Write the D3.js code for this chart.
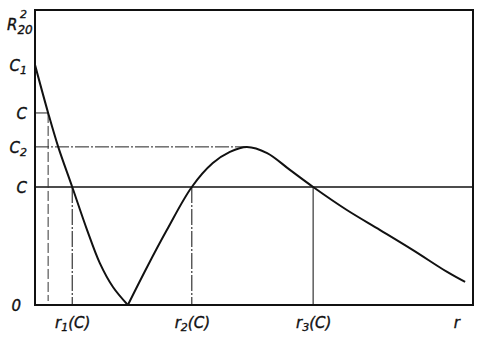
<!DOCTYPE html>
<html>
<head>
<meta charset="utf-8">
<script src="https://cdn.jsdelivr.net/npm/d3@7"></script>
<style>
  body { margin: 0; background: #fff; }
  text { font-family: "DejaVu Sans", sans-serif; font-style: italic; fill: #111; stroke: #111; stroke-width: 0.35; }
</style>
</head>
<body>
<div id="chart"></div>
<script>
// courbe R^2_20 en fonction de r (r de 0 a 10, R de 0 a 1)
var descR = [0, 0.30, 0.53, 0.85, 1.19, 1.48, 1.78, 2.12];
var descV = [0.814, 0.651, 0.536, 0.400, 0.254, 0.142, 0.061, 0];
var riseR = [2.12, 2.56, 3.01, 3.58, 4.06, 4.45, 4.84, 5.30, 5.82, 6.35, 7.12, 7.88, 8.63, 9.41, 9.82];
var riseV = [0, 0.129, 0.254, 0.400, 0.481, 0.519, 0.536, 0.515, 0.458, 0.400, 0.322, 0.254, 0.186, 0.112, 0.078];

// niveaux sur l'axe vertical
var levelNames = ["C", "C", "C", "C"];
var levelSubs = ["1", "", "2", ""];
var levelValues = [0.814, 0.651, 0.536, 0.400];

// points d'intersection sur l'axe horizontal
var tickNames = ["r", "r", "r", "r"];
var tickSubs = ["1", "2", "3", ""];
var tickSuffix = ["(C)", "(C)", "(C)", ""];
var tickR = [0.85, 3.58, 6.35, 9.62];
var rUpper = 0.30;   // intersection avec le niveau C du haut
var rPeak = 4.84;

var margin = {top: 10, right: 11, bottom: 36, left: 35},
    width = 484 - margin.left - margin.right,
    height = 341 - margin.top - margin.bottom;

var svg = d3.select("#chart")
  .append("svg")
    .attr("width", 484)
    .attr("height", 341)
  .append("g")
    .attr("transform", "translate(" + margin.left + "," + margin.top + ")");

var x = d3.scaleLinear().domain([0, 10]).range([0, width]);
var y = d3.scaleLinear().domain([0, 1]).range([height, 0]);

// lignes de niveau
svg.append("line")   // petit trait C du haut
  .attr("x1", 0).attr("x2", x(rUpper))
  .attr("y1", y(levelValues[1])).attr("y2", y(levelValues[1]))
  .attr("stroke", "#222").attr("stroke-width", 1);
svg.append("line")   // C2 jusqu'au sommet
  .attr("x1", 0).attr("x2", x(rPeak))
  .attr("y1", y(levelValues[2])).attr("y2", y(levelValues[2]))
  .attr("stroke", "#222").attr("stroke-width", 1)
  .attr("stroke-dasharray", "14,2,2,2");
svg.append("line")   // C sur toute la largeur
  .attr("x1", 0).attr("x2", width)
  .attr("y1", y(levelValues[3])).attr("y2", y(levelValues[3]))
  .attr("stroke", "#111").attr("stroke-width", 1.6);

// verticales
svg.append("line")
  .attr("x1", x(rUpper)).attr("x2", x(rUpper))
  .attr("y1", y(levelValues[1])).attr("y2", height - 4)
  .attr("stroke", "#333").attr("stroke-width", 1)
  .attr("stroke-dasharray", "10,3");
svg.selectAll(".vert")
  .data(tickR.slice(0, 3))
  .enter()
  .append("line")
    .attr("class", "vert")
    .attr("x1", function(d) { return x(d); })
    .attr("x2", function(d) { return x(d); })
    .attr("y1", y(levelValues[3]))
    .attr("y2", height)
    .attr("stroke", "#222")
    .attr("stroke-width", 1.1)
    .attr("stroke-dasharray", function(d, i) { return i == 2 ? null : "16,2,2,2"; });

// la courbe (deux branches, pointe au minimum)
var line = d3.line()
  .x(function(d) { return x(d[0]); })
  .y(function(d) { return y(d[1]); })
  .curve(d3.curveCatmullRom.alpha(0.5));

svg.append("path")
  .attr("d", line(d3.zip(descR, descV)))
  .attr("fill", "none").attr("stroke", "#111").attr("stroke-width", 2);
svg.append("path")
  .attr("d", line(d3.zip(riseR, riseV)))
  .attr("fill", "none").attr("stroke", "#111").attr("stroke-width", 2);

// cadre
svg.append("rect")
  .attr("x", 0).attr("y", 0)
  .attr("width", width).attr("height", height)
  .attr("fill", "none").attr("stroke", "#111").attr("stroke-width", 2);

// etiquettes de l'axe vertical
var yAxis = svg.append("g")
  .call(d3.axisLeft(y).tickValues(levelValues).tickSize(0).tickPadding(8).tickFormat(""));
yAxis.select(".domain").remove();
yAxis.selectAll(".tick text")
  .each(function(d, i) {
    var t = d3.select(this).attr("font-size", 15).attr("dy", "0.35em");
    t.append("tspan").text(levelNames[i]);
    if (levelSubs[i]) t.append("tspan").attr("font-size", 11).attr("dy", "0.35em").text(levelSubs[i]);
  });

svg.append("text")
  .attr("x", -14).attr("y", height + 6)
  .attr("text-anchor", "end")
  .attr("font-size", 15)
  .text("0");

var ylab = svg.append("text").attr("x", -28).attr("y", 20).attr("font-size", 15);
ylab.append("tspan").text("R");
ylab.append("tspan").attr("font-size", 12).attr("dy", 4).text("20");
svg.append("text").attr("x", -15).attr("y", 8).attr("font-size", 11).text("2");

// etiquettes de l'axe horizontal
var xAxis = svg.append("g")
  .attr("transform", "translate(0," + height + ")")
  .call(d3.axisBottom(x).tickValues(tickR).tickSize(0).tickPadding(12).tickFormat(""));
xAxis.select(".domain").remove();
xAxis.selectAll(".tick text")
  .each(function(d, i) {
    var t = d3.select(this).attr("font-size", 15).attr("dy", "0.71em");
    t.append("tspan").text(tickNames[i]);
    if (tickSubs[i]) t.append("tspan").attr("font-size", 11).attr("dy", 3).text(tickSubs[i]);
    if (tickSuffix[i]) t.append("tspan").attr("dy", -3).text(tickSuffix[i]);
  });
</script>
</body>
</html>
